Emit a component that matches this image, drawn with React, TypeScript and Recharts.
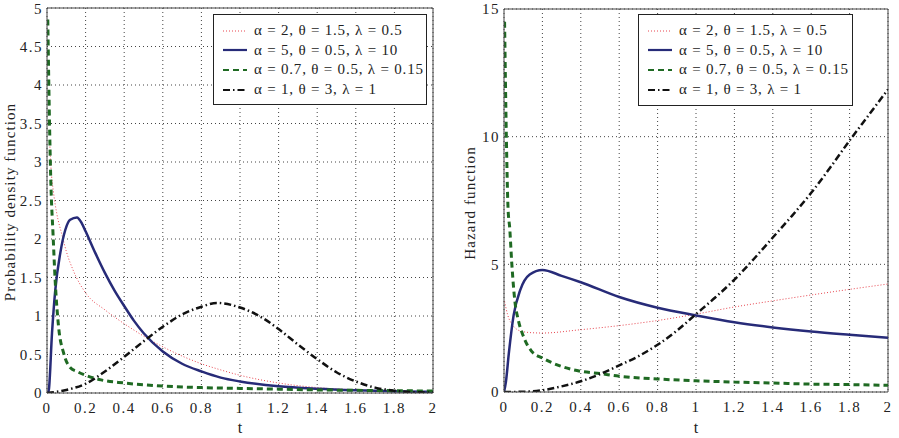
import React from "react";
import { LineChart, Line, XAxis, YAxis, CartesianGrid, ReferenceLine } from "recharts";

// t ticks shared by both panels
const X_TICKS = [0, 0.2, 0.4, 0.6, 0.8, 1, 1.2, 1.4, 1.6, 1.8, 2];
const PDF_TICKS = [0, 0.5, 1, 1.5, 2, 2.5, 3, 3.5, 4, 4.5, 5];
const HAZ_TICKS = [0, 5, 10, 15];

const LEGEND_LABELS = [
  "α = 2, θ = 1.5, λ = 0.5",
  "α = 5, θ = 0.5, λ = 10",
  "α = 0.7, θ = 0.5, λ = 0.15",
  "α = 1, θ = 3, λ = 1",
];

// probability density
const T_PDF_RED = [0.015, 0.02, 0.034, 0.05, 0.078, 0.1, 0.138, 0.2, 0.3, 0.4, 0.5, 0.6, 0.7, 0.8, 0.9, 1, 1.2, 1.4, 1.6, 1.8, 2];
const PDF_RED = [3.2, 2.95, 2.6, 2.34, 2.05, 1.84, 1.58, 1.3, 1.08, 0.9, 0.74, 0.6, 0.48, 0.38, 0.3, 0.23, 0.13, 0.07, 0.04, 0.02, 0.01];

const T_PDF_BLUE = [0.005, 0.01, 0.026, 0.043, 0.069, 0.095, 0.12, 0.155, 0.181, 0.2, 0.25, 0.3, 0.35, 0.4, 0.45, 0.5, 0.6, 0.7, 0.8, 0.9, 1, 1.2, 1.4, 1.6, 1.8, 2];
const PDF_BLUE = [0, 0.05, 0.78, 1.34, 1.82, 2.12, 2.25, 2.28, 2.2, 2.1, 1.82, 1.56, 1.33, 1.13, 0.94, 0.78, 0.54, 0.38, 0.28, 0.2, 0.15, 0.087, 0.055, 0.035, 0.022, 0.015];

const T_PDF_GREEN = [0.004, 0.014, 0.02, 0.031, 0.043, 0.06, 0.086, 0.12, 0.155, 0.2, 0.28, 0.4, 0.6, 0.8, 1, 1.2, 1.4, 1.6, 1.8, 2];
const PDF_GREEN = [4.85, 3.38, 2.73, 2.08, 1.43, 0.86, 0.52, 0.33, 0.28, 0.23, 0.17, 0.13, 0.09, 0.07, 0.06, 0.05, 0.04, 0.035, 0.03, 0.025];

const T_PDF_BLACK = [0, 0.1, 0.2, 0.3, 0.4, 0.5, 0.6, 0.7, 0.8, 0.88, 1, 1.1, 1.2, 1.3, 1.4, 1.5, 1.6, 1.7, 1.8, 1.9, 2];
const PDF_BLACK = [0, 0.04, 0.12, 0.28, 0.47, 0.67, 0.86, 1.02, 1.12, 1.17, 1.11, 1.0, 0.83, 0.63, 0.44, 0.27, 0.15, 0.07, 0.03, 0.01, 0.005];

// hazard
const T_HAZ_RED = [0.003, 0.02, 0.047, 0.09, 0.15, 0.2, 0.4, 0.6, 0.8, 1, 1.2, 1.4, 1.6, 1.8, 2];
const HAZ_RED = [3.55, 3.0, 2.6, 2.38, 2.32, 2.31, 2.44, 2.6, 2.8, 3.05, 3.33, 3.57, 3.8, 4.02, 4.23];

const T_HAZ_BLUE = [0, 0.01, 0.025, 0.05, 0.085, 0.134, 0.2, 0.3, 0.4, 0.6, 0.8, 1, 1.2, 1.4, 1.6, 1.8, 2];
const HAZ_BLUE = [0, 0.4, 1.5, 3.0, 4.0, 4.6, 4.78, 4.55, 4.3, 3.72, 3.3, 3.0, 2.73, 2.53, 2.37, 2.24, 2.12];

const T_HAZ_GREEN = [0.003, 0.012, 0.021, 0.03, 0.04, 0.056, 0.075, 0.1, 0.143, 0.2, 0.3, 0.4, 0.5, 0.6, 0.8, 1, 1.2, 1.4, 1.6, 1.8, 2];
const HAZ_GREEN = [14.5, 10.1, 7.2, 6.4, 5.1, 3.6, 2.8, 2.2, 1.6, 1.33, 1.0, 0.81, 0.72, 0.62, 0.51, 0.44, 0.39, 0.35, 0.31, 0.29, 0.26];

const T_HAZ_BLACK = [0, 0.1, 0.2, 0.3, 0.4, 0.5, 0.6, 0.7, 0.8, 0.9, 1, 1.1, 1.2, 1.3, 1.4, 1.5, 1.6, 1.7, 1.8, 1.9, 2];
const HAZ_BLACK = [0, 0.01, 0.07, 0.22, 0.42, 0.7, 1.04, 1.4, 1.85, 2.4, 3.05, 3.7, 4.4, 5.2, 6.05, 6.9, 7.8, 8.8, 9.85, 10.85, 11.85];

const zip = (ts: number[], vs: number[]) => ts.map((t, i) => ({ t, v: vs[i] }));

const FONT = "'Liberation Serif', 'Times New Roman', serif";

const STYLES = [
  { stroke: "#e8454f", strokeWidth: 1, dash: "1 2" },
  { stroke: "#272b78", strokeWidth: 2.5, dash: undefined },
  { stroke: "#1f6a23", strokeWidth: 3, dash: "6 4" },
  { stroke: "#111111", strokeWidth: 2.5, dash: "7 3 1.5 3" },
];

const tickStyle = { fill: "#222", fontSize: 15, fontFamily: FONT, letterSpacing: 1.5 };

function Legend({ left, top, width, height }: { left: number; top: number; width: number; height: number }) {
  return (
    <div
      style={{
        position: "absolute",
        left,
        top,
        width,
        height,
        border: "1px solid #222",
        background: "#fff",
        boxSizing: "border-box",
        paddingTop: 6,
      }}
    >
      {LEGEND_LABELS.map((lbl, i) => (
        <div key={i} style={{ display: "flex", alignItems: "center", height: 19.6 }}>
          <svg width={32} height={10} style={{ marginLeft: 8, flex: "none" }}>
            <line
              x1={1}
              x2={25}
              y1={5}
              y2={5}
              stroke={STYLES[i].stroke}
              strokeWidth={Math.min(STYLES[i].strokeWidth, 2.2)}
              strokeDasharray={STYLES[i].dash}
            />
          </svg>
          <span style={{ fontFamily: FONT, fontSize: 15, letterSpacing: 0.8, color: "#222", whiteSpace: "nowrap" }}>{lbl}</span>
        </div>
      ))}
    </div>
  );
}

function Panel({
  series,
  yTicks,
  yMax,
  width,
  marginTop,
  marginRight,
  yAxisWidth,
  xAxisHeight,
}: {
  series: { t: number; v: number }[][];
  yTicks: number[];
  yMax: number;
  width: number;
  marginTop: number;
  marginRight: number;
  yAxisWidth: number;
  xAxisHeight: number;
}) {
  return (
    <LineChart width={width} height={438} margin={{ top: marginTop, right: marginRight, bottom: 0, left: 0 }}>
      <CartesianGrid stroke="#444" strokeDasharray="1 3" horizontalValues={yTicks} verticalValues={X_TICKS} />
      <XAxis
        type="number"
        dataKey="t"
        domain={[0, 2]}
        ticks={X_TICKS}
        allowDataOverflow
        height={xAxisHeight}
        tickSize={0}
        tickMargin={9}
        stroke="#444"
        tick={tickStyle}
        label={{ value: "t", position: "insideBottom", offset: 5, fill: "#222", fontSize: 16, fontFamily: FONT }}
      />
      <YAxis
        type="number"
        domain={[0, yMax]}
        ticks={yTicks}
        allowDataOverflow
        width={yAxisWidth}
        tickSize={0}
        tickMargin={4}
        stroke="#444"
        tick={tickStyle}
      />
      <ReferenceLine y={yMax} stroke="#444" />
      <ReferenceLine x={2} stroke="#444" />
      {series.map((d, i) => (
        <Line
          key={i}
          data={d}
          dataKey="v"
          type="monotone"
          dot={false}
          activeDot={false}
          stroke={STYLES[i].stroke}
          strokeWidth={STYLES[i].strokeWidth}
          strokeDasharray={STYLES[i].dash}
          isAnimationActive={false}
        />
      ))}
    </LineChart>
  );
}

export default function App() {
  const pdf = [
    zip(T_PDF_RED, PDF_RED),
    zip(T_PDF_BLUE, PDF_BLUE),
    zip(T_PDF_GREEN, PDF_GREEN),
    zip(T_PDF_BLACK, PDF_BLACK),
  ];
  const haz = [
    zip(T_HAZ_RED, HAZ_RED),
    zip(T_HAZ_BLUE, HAZ_BLUE),
    zip(T_HAZ_GREEN, HAZ_GREEN),
    zip(T_HAZ_BLACK, HAZ_BLACK),
  ];
  const yLabel: React.CSSProperties = {
    position: "absolute",
    transform: "translate(-50%, -50%) rotate(-90deg)",
    fontFamily: FONT,
    fontSize: 15,
    letterSpacing: 1.1,
    color: "#222",
    whiteSpace: "nowrap",
  };
  return (
    <div style={{ position: "absolute", left: 0, top: 0, width: 899, height: 438, background: "#fff" }}>
      <div style={{ position: "absolute", left: 0, top: 0 }}>
        <Panel series={pdf} yTicks={PDF_TICKS} yMax={5} width={450} marginTop={8} marginRight={17} yAxisWidth={47} xAxisHeight={45} />
      </div>
      <div style={{ position: "absolute", left: 450, top: 0 }}>
        <Panel series={haz} yTicks={HAZ_TICKS} yMax={15} width={449} marginTop={9} marginRight={11} yAxisWidth={54} xAxisHeight={46} />
      </div>
      <div style={{ ...yLabel, left: 10, top: 202 }}>Probability density function</div>
      <div style={{ ...yLabel, left: 470, top: 203 }}>Hazard function</div>
      <Legend left={213} top={14} width={214} height={91} />
      <Legend left={638} top={14} width={215} height={92} />
    </div>
  );
}
